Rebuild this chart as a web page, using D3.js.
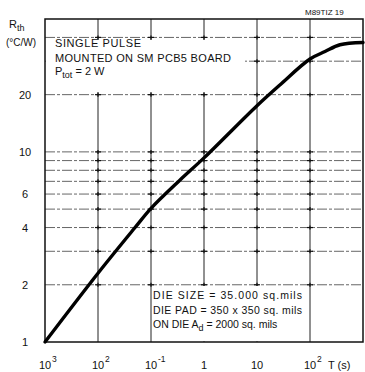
<!DOCTYPE html>
<html><head><meta charset="utf-8">
<script src="https://cdn.jsdelivr.net/npm/d3@7"></script>
<style>
body{margin:0;background:#fff}
svg{display:block}
text{font-family:"Liberation Sans",Arial,sans-serif;fill:#111}
</style></head><body>
<script>
// Data
const timeSeconds = [0.001, 0.01, 0.05, 0.1,  0.35, 1,   10,   27,   100,  192,  368,  1000];
const rthValues   = [1.0,   2.3,  4.0,  5.05, 7.1,  9.3, 17.5, 22.5, 30.8, 33.7, 36.6, 37.6];
const xTickValues = [1e-3, 1e-2, 1e-1, 1, 10, 100, 1000];
const xTickBase   = ["10", "10", "10", "1", "10", "10", ""];
const xTickExp    = ["3", "2", "-1", "", "", "2", ""];
const yGridValues = [2, 3, 4, 5, 6, 7, 8, 9, 10, 20, 30, 40];
const yTickValues = [1, 2, 4, 6, 10, 20];
const yTickLabels = ["1", "2", "4", "6", "10", "20"];
const notesTop    = ["SINGLE PULSE", "MOUNTED ON SM PCB5 BOARD"];
const notesBottom = ["DIE  SIZE = 35.000 sq.mils", "DIE PAD = 350 x 350 sq. mils"];

const W = 365, H = 372;
const L = 45, R = 363, T = 19, B = 342;
const svg = d3.select("body").append("svg").attr("width", W).attr("height", H);

const x = d3.scaleLog().domain([1e-3, 1e3]).range([L, R]);
const y = d3.scaleLog().domain([1, 50]).range([B, T]);

// horizontal grid
const g = svg.append("g");
g.selectAll("line.h").data(yGridValues).join("line")
  .attr("x1", L).attr("x2", R)
  .attr("y1", d => y(d)).attr("y2", d => y(d))
  .attr("stroke", "#666").attr("stroke-width", 1)
  .attr("stroke-dasharray", "10,2,3,2");
// vertical grid
g.selectAll("line.v").data(xTickValues.slice(1, -1)).join("line")
  .attr("x1", d => x(d)).attr("x2", d => x(d))
  .attr("y1", T).attr("y2", B)
  .attr("stroke", "#222").attr("stroke-width", 1);
// crosses at intersections
const inter = [];
xTickValues.slice(1, -1).forEach(a => yGridValues.forEach(b => inter.push([a, b])));
g.selectAll("line.c").data(inter).join("line")
  .attr("x1", d => x(d[0]) - 3).attr("x2", d => x(d[0]) + 3)
  .attr("y1", d => y(d[1])).attr("y2", d => y(d[1]))
  .attr("stroke", "#111").attr("stroke-width", 1.2);
g.selectAll("line.c2").data(inter).join("line")
  .attr("x1", d => x(d[0])).attr("x2", d => x(d[0]))
  .attr("y1", d => y(d[1]) - 2).attr("y2", d => y(d[1]) + 2)
  .attr("stroke", "#111").attr("stroke-width", 1.2);

// white boxes for notes
svg.append("rect").attr("x", L + 1).attr("y", 40).attr("width", 199).attr("height", 52).attr("fill", "#fff");
svg.append("rect").attr("x", x(0.1) + 1).attr("y", y(2) + 1.2).attr("width", x(100) - x(0.1) - 2).attr("height", B - y(2) - 2).attr("fill", "#fff");

// frame
svg.append("rect").attr("x", L).attr("y", T).attr("width", R - L).attr("height", B - T)
  .attr("fill", "none").attr("stroke", "#111").attr("stroke-width", 1.5);

// curve
const pts = timeSeconds.map((t, i) => [x(t), y(rthValues[i])]);
svg.append("path").attr("d", d3.line().curve(d3.curveCatmullRom.alpha(0.5))(pts))
  .attr("fill", "none").attr("stroke", "#000").attr("stroke-width", 3.4)
  .attr("stroke-linecap", "round");

// y tick labels
svg.selectAll("text.yl").data(yTickValues).join("text")
  .attr("x", 25).attr("y", d => y(d) + 4)
  .attr("text-anchor", "middle").attr("font-size", 11)
  .text((d, i) => yTickLabels[i]);

// x tick labels
xTickValues.forEach((v, i) => {
  if (!xTickBase[i]) return;
  svg.append("text").attr("x", x(v)).attr("y", 369).attr("font-size", 11)
    .attr("text-anchor", "middle").text(xTickBase[i]);
  if (xTickExp[i]) {
    svg.append("text").attr("x", x(v) + 7).attr("y", 362).attr("font-size", 8.5)
      .text(xTickExp[i]);
  }
});
svg.append("text").attr("x", 328).attr("y", 369).attr("font-size", 11).text("T (s)");

// y axis title
const rt = svg.append("text").attr("x", 9).attr("y", 28).attr("font-size", 11);
rt.append("tspan").text("R");
rt.append("tspan").attr("dy", 3).attr("font-size", 9).text("th");
svg.append("text").attr("x", 6).attr("y", 46).attr("font-size", 10).text("(°C/W)");

// code
svg.append("text").attr("x", 305).attr("y", 15).attr("font-size", 8).attr("fill", "#333").text("M89TIZ 19");

// notes top
svg.append("text").attr("x", 55).attr("y", 47).attr("font-size", 11)
  .attr("textLength", 86).attr("lengthAdjust", "spacing").text(notesTop[0]);
svg.append("text").attr("x", 55).attr("y", 62).attr("font-size", 11)
  .attr("textLength", 176).attr("lengthAdjust", "spacing").text(notesTop[1]);
const pt = svg.append("text").attr("x", 55).attr("y", 75).attr("font-size", 11);
pt.append("tspan").text("P");
pt.append("tspan").attr("dy", 3).attr("font-size", 9).text("tot");
pt.append("tspan").attr("dy", -3).text(" = 2 W");

// notes bottom
svg.append("text").attr("x", 153).attr("y", 299).attr("font-size", 10.5)
  .attr("textLength", 149).attr("lengthAdjust", "spacing").text(notesBottom[0]);
svg.append("text").attr("x", 153).attr("y", 314).attr("font-size", 10.5)
  .attr("textLength", 149).attr("lengthAdjust", "spacing").text(notesBottom[1]);
const ad = svg.append("text").attr("x", 153).attr("y", 328).attr("font-size", 10.5);
ad.append("tspan").text("ON DIE  A");
ad.append("tspan").attr("dy", 3).attr("font-size", 9).text("d");
ad.append("tspan").attr("dy", -3).text(" = 2000 sq. mils");
</script>
</body></html>
